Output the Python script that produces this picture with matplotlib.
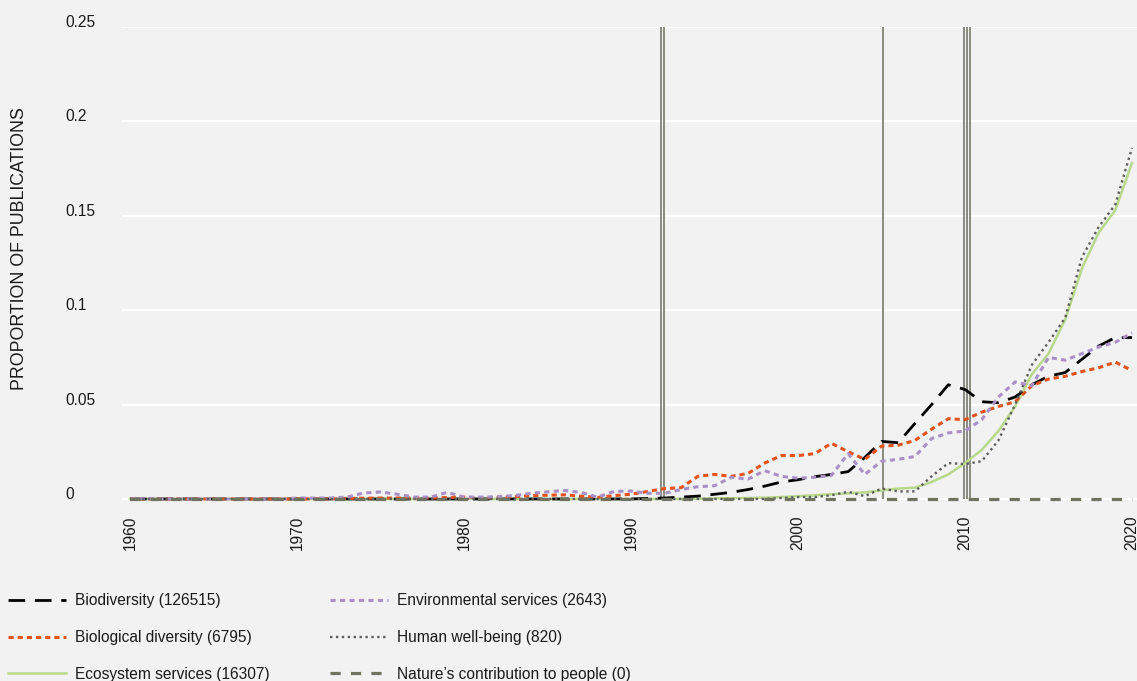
import numpy as np
import matplotlib
matplotlib.use("Agg")
import matplotlib.pyplot as plt
from matplotlib.transforms import blended_transform_factory

# =============================================================================
# DATA (proportion of publications per year)
# =============================================================================
years = list(range(1960, 2021))

biodiversity = [0.0] * 31 + [
    0.0003, 0.0005, 0.001, 0.0015, 0.0025, 0.0035, 0.005, 0.0068, 0.009, 0.0102,  # 1991-2000
    0.0118, 0.013, 0.0145, 0.022, 0.0305, 0.0298, 0.040, 0.050, 0.0605, 0.058,    # 2001-2010
    0.0515, 0.051, 0.054, 0.0605, 0.065, 0.067, 0.074, 0.081, 0.0855, 0.0855]     # 2011-2020

biological_diversity = [0.0] * 13 + [
    0.0003, 0.0004, 0.0005, 0.0005, 0.0005, 0.0005, 0.0008, 0.001,                # 1973-1980
    0.0005, 0.0008, 0.0012, 0.0018, 0.002, 0.0022, 0.0015, 0.0008, 0.0018, 0.0025,  # 1981-1990
    0.004, 0.0055, 0.006, 0.012, 0.013, 0.012, 0.0135, 0.019, 0.023, 0.023,       # 1991-2000
    0.024, 0.0295, 0.025, 0.021, 0.028, 0.0285, 0.031, 0.037, 0.0425, 0.042,      # 2001-2010
    0.046, 0.049, 0.0515, 0.060, 0.0635, 0.065, 0.0675, 0.0695, 0.0725, 0.068]    # 2011-2020

ecosystem_services = [0.0] * 34 + [
    0.0001, 0.0003, 0.0004, 0.0005, 0.0007, 0.001, 0.0015,                        # 1994-2000
    0.002, 0.0025, 0.003, 0.0035, 0.0045, 0.0055, 0.006, 0.009, 0.013, 0.019,     # 2001-2010
    0.026, 0.036, 0.049, 0.066, 0.077, 0.095, 0.122, 0.141, 0.153, 0.178]         # 2011-2020

environmental_services = [
    0.0, 0.0003, 0.0, 0.0, 0.0, 0.0, 0.0, 0.0, 0.0, 0.0,                          # 1960-1969
    0.0005, 0.0005, 0.0005, 0.001, 0.0032, 0.0037, 0.0025, 0.001, 0.001, 0.0035,  # 1970-1979
    0.001, 0.001, 0.0012, 0.0018, 0.003, 0.0038, 0.0045, 0.0035, 0.001, 0.004,    # 1980-1989
    0.0042, 0.003, 0.003, 0.005, 0.0065, 0.007, 0.0115, 0.0105, 0.015, 0.012,     # 1990-1999
    0.011, 0.0115, 0.0125, 0.024, 0.013, 0.020, 0.021, 0.0225, 0.032, 0.035,      # 2000-2009
    0.036, 0.042, 0.054, 0.062, 0.060, 0.075, 0.0735, 0.077, 0.0805, 0.083,       # 2010-2019
    0.088]                                                                        # 2020

human_well_being = [0.0] * 39 + [
    0.0005, 0.001,                                                                # 1999-2000
    0.001, 0.002, 0.0038, 0.0015, 0.0055, 0.004, 0.004, 0.012, 0.019, 0.0185,     # 2001-2010
    0.020, 0.031, 0.050, 0.071, 0.083, 0.096, 0.128, 0.144, 0.156, 0.186]         # 2011-2020

natures_contribution = [0.0] * 61

labels = ["Biodiversity (126515)",
          "Biological diversity (6795)",
          "Ecosystem services (16307)",
          "Environmental services (2643)",
          "Human well-being (820)",
          "Nature\u2019s contribution to people (0)"]

event_lines = [1991.77, 1991.95, 2005.08, 2009.92, 2010.1, 2010.28]  # vertical marker lines
y_ticks = [0, 0.05, 0.1, 0.15, 0.2, 0.25]
y_tick_labels = ["0", "0.05", "0.1", "0.15", "0.2", "0.25"]
x_ticks = [1960, 1970, 1980, 1990, 2000, 2010, 2020]

# =============================================================================
# FIGURE
# =============================================================================
plt.rcParams['font.family'] = ['Liberation Sans', 'DejaVu Sans']
bg = "#f2f2f2"
txt = "#1a1a1a"
fs = 11.2

fig = plt.figure(figsize=(11.37, 6.81), dpi=100, facecolor=bg)
W, H = 1137, 681
x0, x1 = 1959.52, 2021.0
px_per_year = 16.7
left = 122 / W
width = (x1 - x0) * px_per_year / W
ax = fig.add_axes([left, (H - 502) / H, width, (502 - 27) / H])
ax.set_facecolor(bg)
ax.set_xlim(x0, x1)
ax.set_ylim(-0.0016, 0.25)
for s in ax.spines.values():
    s.set_visible(False)

# white grid lines
for v in y_ticks:
    ax.axhline(v, color="white", lw=1.6, zorder=1)

# event marker lines
ax.vlines(event_lines, 0, 0.25, color="#6c6f62", lw=1.1, zorder=2)

ax.plot(years, biodiversity, color="black", lw=2.0, dashes=(6, 3.5),
        label=labels[0], zorder=4)
ax.plot(years, biological_diversity, color="#e2531e", lw=2.2, dashes=(1.7, 1.3),
        label=labels[1], zorder=4)
ax.plot(years, ecosystem_services, color="#b8d88b", lw=1.8,
        label=labels[2], zorder=3)
ax.plot(years, environmental_services, color="#a991c8", lw=2.2, dashes=(1.7, 1.4),
        label=labels[3], zorder=4)
ax.plot(years, human_well_being, color="#5e5e5e", lw=1.7, dashes=(1, 1.5),
        label=labels[4], zorder=4)
ax.plot(years, natures_contribution, color="#70735f", lw=2.3, dashes=(3.2, 3.2),
        label=labels[5], zorder=5, clip_on=False)

# x ticks (the last one runs off the right edge, as in the original)
ax.set_xticks(x_ticks)
ax.set_xticklabels([str(x) for x in x_ticks], rotation=90, fontsize=fs, color=txt)
ax.tick_params(axis="x", length=0, pad=10)
ax.set_yticks([])

# y tick labels, left aligned, sitting on the grid lines
tr = blended_transform_factory(fig.transFigure, ax.transData)
for v, lab in zip(y_ticks, y_tick_labels):
    ax.text(65 / W, v, lab, transform=tr, ha="left", va="baseline",
            fontsize=fs, color=txt)

fig.text(20 / W, 1 - 249 / H, "PROPORTION OF PUBLICATIONS", rotation=90,
         ha="center", va="center", fontsize=12.8, color=txt)

leg = fig.legend(loc="upper left", bbox_to_anchor=(2 / W, 1 - 587 / H), ncol=2,
                 frameon=False, fontsize=fs, handlelength=3.7,
                 handletextpad=0.6, columnspacing=3.9, labelspacing=1.4,
                 borderaxespad=0, borderpad=0.4)
for t in leg.get_texts():
    t.set_color(txt)

fig.savefig("out.png", dpi=100, facecolor=bg)
